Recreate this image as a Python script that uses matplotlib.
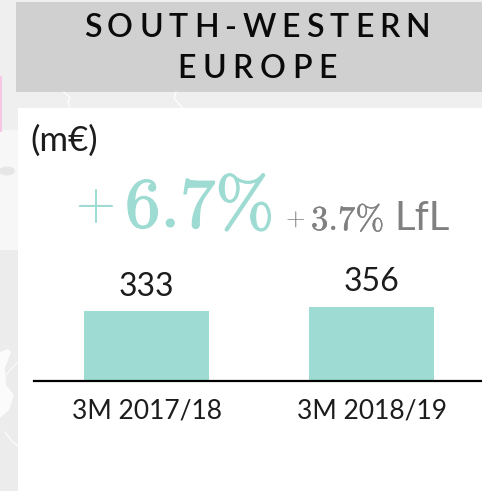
import matplotlib
matplotlib.use("Agg")
import matplotlib.pyplot as plt
import matplotlib.patheffects as pe
from matplotlib.patches import Rectangle, Ellipse, Polygon

categories = ["3M 2017/18", "3M 2018/19"]
values = [333, 356]
title_lines = ["SOUTH-WESTERN", "EUROPE"]
unit = "(m€)"
growth_sign = "+"
growth = "6.7%"
growth_small_sign = "+"
growth_small = "3.7%"
lfl = "LfL"

TEAL = "#9edcd3"
GREY = "#808080"
INK = "#1c1c1c"
W, H = 482, 491
plt.rcParams["font.family"] = ["Lato", "DejaVu Sans"]
plt.rcParams["axes.unicode_minus"] = False

fig = plt.figure(figsize=(W / 100, H / 100), dpi=100, facecolor="#efefef")

# overlay in pixel coordinates
bg = fig.add_axes([0, 0, 1, 1], zorder=0)
bg.set_xlim(0, W)
bg.set_ylim(H, 0)
bg.axis("off")
bg.add_patch(Rectangle((0, 130), 18, 125, fc="#f7f7f7", ec="none"))
bg.add_patch(Rectangle((0, 250), 18, 241, fc="#ececec", ec="none"))
bg.add_patch(Polygon([(0, 352), (8, 349), (11, 352), (5, 368), (6, 385), (14, 395),
                      (9, 410), (0, 418)], fc="#fbfbfb", ec="none"))
bg.plot([5, 11, 14, 18], [432, 440, 443, 446], color="white", lw=0.8)
bg.plot([6, 12, 18], [375, 368, 362], color="white", lw=0.6)
bg.add_patch(Ellipse((7, 171), 16, 9, fc="#e6e6e6", ec="none"))
bg.add_patch(Rectangle((0, 76), 2, 56, fc="#f6c6e2", ec="none"))
bg.add_patch(Rectangle((16, 2), W - 16, 90, fc="#d0d0d0", ec="none"))
bg.add_patch(Rectangle((18, 108), W - 18, H - 108, fc="white", ec="none"))
bg.plot([64, 70, 68, 70], [92, 98, 102, 108], color="white", lw=0.8)
bg.plot([176, 174, 178, 183], [92, 98, 103, 108], color="white", lw=0.8)


def spaced_text(ax, text, cx, y, size, gap):
    """Draw one string with letter-spacing, glyph by glyph."""
    r = fig.canvas.get_renderer()
    arts = [ax.text(0, y, c, fontsize=size, color="#0a0a0a", va="center", ha="left",
                    family="Lato", fontweight="semibold") for c in text]
    widths = [a.get_window_extent(r).width for a in arts]
    total = sum(widths) + gap * (len(text) - 1)
    x = cx - total / 2
    for a, w in zip(arts, widths):
        a.set_x(x)
        x += w + gap


spaced_text(bg, title_lines[0], 257, 28, 23, 6.0)
spaced_text(bg, title_lines[1], 257, 69, 23, 6.4)

bg.text(30, 141, unit, fontsize=25, color=INK, va="center", ha="left")
bg.text(75, 206, growth_sign, fontsize=37, color=TEAL, va="center", ha="left", family="cmr10")
t = bg.text(125, 209, growth, fontsize=51, color=TEAL, va="center", ha="left", family="cmr10")
t.set_path_effects([pe.withStroke(linewidth=1.0, foreground=TEAL)])
bg.text(286, 221, growth_small_sign, fontsize=18, color=GREY, va="center", ha="left", family="cmr10")
t2 = bg.text(311, 221, growth_small, fontsize=25, color=GREY, va="center", ha="left", family="cmr10")
t2.set_path_effects([pe.withStroke(linewidth=0.3, foreground=GREY)])
bg.text(394, 219, lfl, fontsize=29, color=GREY, va="center", ha="left")

# bars
L, R, B, T = 34, 482, 380.5, 200
ax = fig.add_axes([L / W, 1 - B / H, (R - L) / W, (B - T) / H], zorder=1)
ax.patch.set_alpha(0)
bars = ax.bar(range(len(values)), values, width=0.556, color=TEAL, zorder=2)
ax.set_xlim(-0.5, 1.491)
ax.set_ylim(0, (B - T) / 0.2075)
ax.bar_label(bars, labels=[str(v) for v in values], padding=7, fontsize=23, color=INK)
ax.set_xticks(range(len(categories)), categories)
ax.tick_params(axis="x", length=0, pad=13, labelsize=19, labelcolor=INK)
ax.set_yticks([])
for s in ["top", "left", "right"]:
    ax.spines[s].set_visible(False)
ax.spines["bottom"].set_linewidth(1.6)
ax.spines["bottom"].set_color("black")
ax.spines["bottom"].set_zorder(3)

fig.savefig("out.png", dpi=100, facecolor=fig.get_facecolor())
